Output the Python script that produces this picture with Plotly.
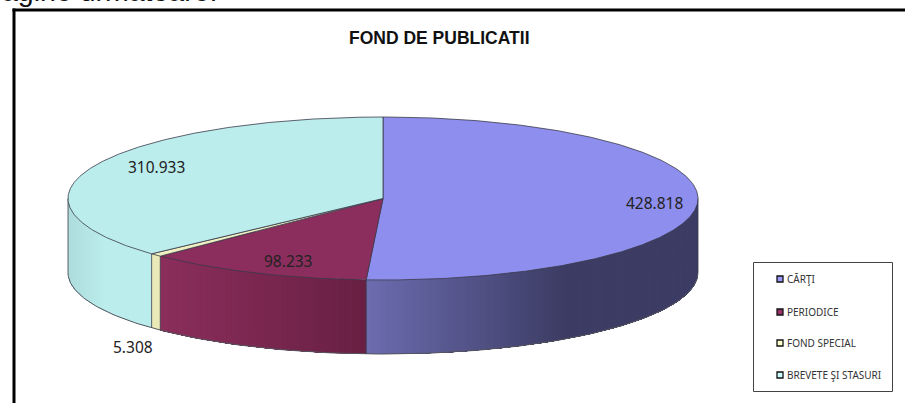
import math
import plotly.graph_objects as go

# --- data -------------------------------------------------------------
categories = ["CĂRŢI", "PERIODICE", "FOND SPECIAL", "BREVETE ŞI STASURI"]
values = [428818, 98233, 5308, 310933]
value_labels = ["428.818", "98.233", "5.308", "310.933"]
title_text = "FOND DE PUBLICATII"
page_text = "agine următoare:"

# --- styles -----------------------------------------------------------
top_colors = ["#8E8EEE", "#8B2E5D", "#EFEFC2", "#BBEDED"]
wall_left = ["#6C6CB0", "#8B2E5C", "#EAEAB9", "#AEDCDC"]
wall_right = ["#3C3C64", "#682043", "#EAEAB9", "#BBEDED"]
legend_colors = ["#9999FF", "#993366", "#FFFFCC", "#CCFFFF"]
label_pos = [(654, 203), (288, 261), (133, 347), (156, 167)]
legend_rows = [279, 312, 343, 375]

CX, CY, RX, RY, DEPTH = 383, 198.5, 315, 81.5, 74
fig = go.Figure()


def pt(deg, dy=0):
    a = math.radians(deg)
    return CX + RX * math.sin(a), CY - RY * math.cos(a) + dy


def arc(a0, a1, dy=0, step=1.0):
    n = max(2, int(abs(a1 - a0) / step) + 1)
    return [pt(a0 + (a1 - a0) * i / (n - 1), dy) for i in range(n)]


def mix(c0, c1, t):
    p = [int(c0[i:i + 2], 16) for i in (1, 3, 5)]
    q = [int(c1[i:i + 2], 16) for i in (1, 3, 5)]
    return "rgb(%d,%d,%d)" % tuple(round(a + (b - a) * t) for a, b in zip(p, q))


total = sum(values)
angles = [0]
for v in values:
    angles.append(angles[-1] + v / total * 360)

# Walls: front half of the rim only. Each band overlaps everything after it,
# so the next band paints over it and no seams show.
GRAD_SPANS = [(366, 565), (160, 366), (152, 160), (68, 105)]
for i in range(4):
    a0, a1 = max(angles[i], 90), min(angles[i + 1], 270)
    if a1 <= a0:
        continue
    n = max(1, int((a1 - a0) / 0.5))
    xl, xr = GRAD_SPANS[i]
    for k in range(n):
        b0 = a0 + (a1 - a0) * k / n
        b1 = a0 + (a1 - a0) * (k + 1) / n
        poly = arc(b0, a1, 0, 1.0) + arc(a1, b0, DEPTH, 1.0)
        xm = pt((b0 + b1) / 2)[0]
        t = min(1, max(0, (xm - xl) / (xr - xl)))
        fig.add_trace(go.Scatter(
            x=[p[0] for p in poly] + [poly[0][0]],
            y=[p[1] for p in poly] + [poly[0][1]],
            mode="lines", fill="toself", fillcolor=mix(wall_left[i], wall_right[i], t),
            line=dict(width=0),
            hoverinfo="skip", showlegend=False))

# Wall outlines
EDGE = "#3a3a4a"
outer = arc(90, 270, DEPTH)
fig.add_trace(go.Scatter(x=[p[0] for p in outer], y=[p[1] for p in outer], mode="lines",
                         line=dict(color="#55555f", width=1), hoverinfo="skip", showlegend=False))
for deg in [90, 270] + angles[1:4]:
    p0, p1 = pt(deg), pt(deg, DEPTH)
    fig.add_trace(go.Scatter(x=[p0[0], p1[0]], y=[p0[1], p1[1]], mode="lines",
                             line=dict(color=EDGE, width=0.8), hoverinfo="skip", showlegend=False))

# Top faces
for i in range(4):
    rim = arc(angles[i], angles[i + 1], 0, 0.5)
    poly = [(CX, CY)] + rim + [(CX, CY)]
    fig.add_trace(go.Scatter(
        x=[p[0] for p in poly], y=[p[1] for p in poly],
        mode="lines", fill="toself", fillcolor=top_colors[i],
        line=dict(color="#3a3a4a", width=0.8),
        name=categories[i], text=value_labels[i], hoverinfo="name+text", showlegend=False))

# Legend swatches
for i, row in enumerate(legend_rows):
    fig.add_trace(go.Scatter(
        x=[780], y=[row], mode="markers", name=categories[i],
        marker=dict(symbol="square", size=6, color=legend_colors[i],
                    line=dict(color="#111111", width=1.3)),
        hoverinfo="name", showlegend=False))

ann = [
    dict(x=439.5, y=37.5, text="<b>%s</b>" % title_text, showarrow=False,
         font=dict(family="Liberation Sans", size=17.5, color="#111111")),
    dict(x=0, y=9, text=page_text, showarrow=False, xanchor="left", yanchor="bottom",
         font=dict(family="Liberation Sans", size=28.5, color="#111111")),
]
for (lx, ly), t in zip(label_pos, value_labels):
    ann.append(dict(x=lx, y=ly, text=t, showarrow=False,
                    font=dict(family="Noto Sans", size=15.5, color="#222222")))
for c, row in zip(categories, legend_rows):
    ann.append(dict(x=784.5, y=row, text=c, showarrow=False, xanchor="left",
                    font=dict(family="Noto Sans", size=10, color="#333333")))

shapes = [
    dict(type="line", x0=14, x1=14, y0=8.5, y1=403, line=dict(color="black", width=3)),
    dict(type="line", x0=12.5, x1=905, y0=10, y1=10, line=dict(color="black", width=3)),
    dict(type="rect", x0=753.5, x1=892.5, y0=262.5, y1=391.5,
         line=dict(color="#444444", width=1), fillcolor="rgba(0,0,0,0)"),
]

fig.update_layout(
    width=905, height=403, margin=dict(l=0, r=0, t=0, b=0),
    paper_bgcolor="white", plot_bgcolor="white", showlegend=False,
    xaxis=dict(range=[0, 905], visible=False, fixedrange=True),
    yaxis=dict(range=[403, 0], visible=False, fixedrange=True),
    annotations=ann, shapes=shapes,
)
fig.write_html("out.html", config=dict(displayModeBar=False),
               post_script="document.body.style.margin='0';document.body.style.overflow='hidden';")
